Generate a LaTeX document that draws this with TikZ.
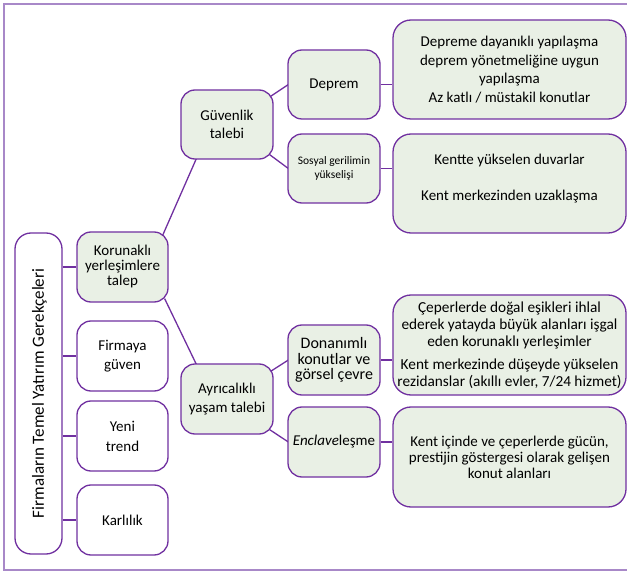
\documentclass[tikz,border=0pt]{standalone}
\usepackage{fontspec}
\setmainfont{Carlito}
\usetikzlibrary{calc,backgrounds}
\definecolor{bord}{HTML}{7030A0}
\definecolor{frame}{HTML}{A888C8}
\definecolor{gfill}{HTML}{E9F0E5}
\tikzset{
  box/.style={draw=bord, line width=1.3pt, rounded corners=14pt, align=center, inner sep=2pt,
    font=\fontsize{15}{18.5}\selectfont},
  gbox/.style={box, fill=gfill},
  wbox/.style={box, fill=white},
  conn/.style={draw=bord, line width=1.3pt},
}
\begin{document}
\begin{tikzpicture}[x=1pt,y=-1pt]
\useasboundingbox (0,0) rectangle (627,572);
\draw[frame, line width=1.2pt] (627,4) -- (4,4) -- (4,570) -- (627,570);
% level 0
\node[wbox, minimum width=47pt, minimum height=321pt, rounded corners=16pt] (root) at (38.5,393.5) {};
\node[rotate=90, font=\fontsize{17}{20}\selectfont] (roott) at ($(root.center)+(1,0)$) {Firmaların Temel Yatırım Gerekçeleri};
% level 1
\node[gbox, minimum width=91pt, minimum height=70pt, font=\fontsize{15}{15}\selectfont] (kor) at (122.5,267) {Korunaklı\\yerleşimlere\\talep};
\node[wbox, minimum width=91pt, minimum height=70pt, font=\fontsize{15}{19}\selectfont] (fir) at (122.5,356) {Firmaya\\güven};
\node[wbox, minimum width=91pt, minimum height=70pt, font=\fontsize{15}{20}\selectfont] (yen) at (122.5,436) {Yeni\\trend};
\node[wbox, minimum width=91pt, minimum height=70pt] (kar) at (122.5,520) {Karlılık};
% level 2
\node[gbox, minimum width=92pt, minimum height=69pt] (guv) at (227,124.5) {Güvenlik\\talebi};
\node[gbox, minimum width=92pt, minimum height=70pt] (ayr) at (227,399) {Ayrıcalıklı\\yaşam talebi};
% level 3
\node[gbox, minimum width=92pt, minimum height=69pt] (dep) at (334,84.5) {Deprem};
\node[gbox, minimum width=92pt, minimum height=69pt, font=\fontsize{11.5}{14.5}\selectfont] (sos) at (334,168.5) {Sosyal gerilimin\\yükselişi};
\node[gbox, minimum width=92pt, minimum height=70pt, font=\fontsize{16}{15.5}\selectfont] (don) at (334,360) {Donanımlı\\konutlar ve\\görsel çevre};
\node[gbox, minimum width=92pt, minimum height=70pt] (enc) at (334,442) {\textit{Enclave}leşme};
% level 4
\node[gbox, minimum width=233pt, minimum height=99pt, rounded corners=18pt] (depd) at (509.5,69.5)
  {Depreme dayanıklı yapılaşma\\deprem yönetmeliğine uygun\\yapılaşma\\Az katlı / müstakil konutlar};
\node[gbox, minimum width=233pt, minimum height=99pt, rounded corners=18pt] (ken) at (509.5,183.5)
  {Kentte yükselen duvarlar\\[17pt]Kent merkezinden uzaklaşma\\[-6pt]};
\node[gbox, minimum width=233pt, minimum height=100pt, rounded corners=18pt, font=\fontsize{15.3}{17}\selectfont] (cep) at (509.5,345)
  {Çeperlerde doğal eşikleri ihlal\\ederek yatayda büyük alanları işgal\\eden korunaklı yerleşimler\\[6pt]Kent merkezinde düşeyde yükselen\\rezidanslar (akıllı evler, 7/24 hizmet)};
\node[gbox, minimum width=233pt, minimum height=100pt, rounded corners=18pt, font=\fontsize{15}{16}\selectfont] (kic) at (509.5,457)
  {Kent içinde ve çeperlerde gücün,\\prestijin göstergesi olarak gelişen\\konut alanları};
% connectors
\begin{scope}[on background layer]
\draw[conn] (root.east |- kor.west) -- (kor.west);
\draw[conn] (root.east |- fir.west) -- (fir.west);
\draw[conn] (root.east |- yen.west) -- (yen.west);
\draw[conn] (root.east |- kar.west) -- (kar.west);
\draw[conn] ($(kor.north east)+(-6,4)$) -- ($(guv.south west)+(16,-1)$);
\draw[conn] ($(kor.south east)+(-4,-4)$) -- ($(ayr.north west)+(16,1)$);
\draw[conn] ($(guv.north east)+(-3,7)$) -- ($(dep.west)+(1,0)$);
\draw[conn] ($(guv.south east)+(-4,-5)$) -- ($(sos.west)+(1,0)$);
\draw[conn] ($(ayr.north east)+(-3,8)$) -- ($(don.west)+(1,0)$);
\draw[conn] ($(ayr.south east)+(-4,-5)$) -- ($(enc.west)+(1,0)$);
\draw[conn] (dep.east) -- (depd.west |- dep.east);
\draw[conn] (sos.east) -- (ken.west |- sos.east);
\draw[conn] (don.east) -- (cep.west |- don.east);
\draw[conn] (enc.east) -- (kic.west |- enc.east);
\end{scope}
\end{tikzpicture}
\end{document}
